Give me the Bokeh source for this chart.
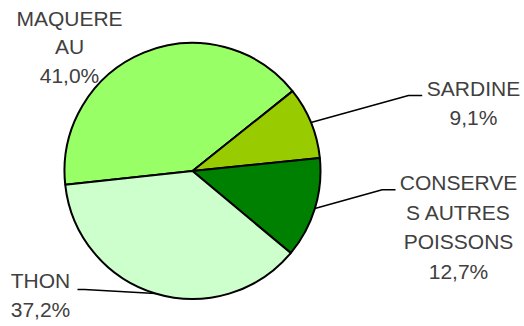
import math
from bokeh.plotting import figure
from bokeh.models import Range1d, ColumnDataSource
from bokeh.core.properties import value
from bokeh.embed import file_html
from bokeh.resources import INLINE

# ---- data ----
categories = ["MAQUEREAU", "SARDINE", "CONSERVES AUTRES POISSONS", "THON"]
label_lines = [["MAQUERE", "AU"], ["SARDINE"], ["CONSERVE", "S AUTRES", "POISSONS"], ["THON"]]
percents = [41.0, 9.1, 12.7, 37.2]
pct_labels = ["41,0%", "9,1%", "12,7%", "37,2%"]
colors = ["#99FF66", "#99CC00", "#008000", "#CCFFCC"]

# ---- layout (picture pixel coordinates) ----
W, H = 524, 326
def fx(px): return px
def fy(py): return H - py
TEXT_SHIFT = 8.5  # rendered text sits lower than its nominal baseline

cx, cy, R = fx(192), fy(170.5), 128
start_deg = 186.2  # first slice start, going clockwise

total = sum(percents)
starts, ends, mids = [], [], []
a = math.radians(start_deg)
for v in percents:
    span = 2 * math.pi * v / total
    starts.append(a)
    ends.append(a - span)
    mids.append(a - span / 2)
    a -= span

p = figure(width=W, height=H, output_backend="svg", toolbar_location=None,
           x_range=Range1d(0, W), y_range=Range1d(0, H), min_border=0)
p.axis.visible = False
p.grid.visible = False
p.outline_line_color = None
p.background_fill_color = "white"
p.border_fill_color = "white"

src = ColumnDataSource(dict(start=starts, end=ends, color=colors, cat=categories))
p.wedge(x=cx, y=cy, radius=R, radius_units="screen", start_angle="start", end_angle="end",
        direction="clock", fill_color="color", line_color="black", line_width=2, source=src)

# label anchors (picture coords): center x, first baseline, line spacing
anchors = [(69, 26, 28.7), (473, 96, 29.7), (458, 190.7, 29.5), (40, 288.5, 28.5)]
# leader elbows (picture coords): elbow, end  (None = no leader)
leaders = [None, ((408, 95), (421.7, 95)), ((381.7, 189.3), (395, 189.3)), ((84, 289), (77, 289))]

for i in range(len(categories)):
    lines = label_lines[i] + [pct_labels[i]]
    ax, ay, lh = anchors[i]
    xs = [fx(ax)] * len(lines)
    ys = [fy(ay + k * lh - TEXT_SHIFT) for k in range(len(lines))]
    p.text(x=xs, y=ys, text=lines, text_align="center", text_baseline="alphabetic",
           text_font=value("Liberation Sans"), text_font_size="21px", text_color="#404040")
    if leaders[i] is not None:
        m = mids[i]
        ex, ey = cx + R * math.cos(m), cy + R * math.sin(m)
        (bx, by), (tx, ty) = leaders[i]
        p.line(x=[ex, fx(bx), fx(tx)], y=[ey, fy(by), fy(ty)], line_color="black", line_width=1.5)

open("out.html", "w").write(file_html(p, INLINE))
